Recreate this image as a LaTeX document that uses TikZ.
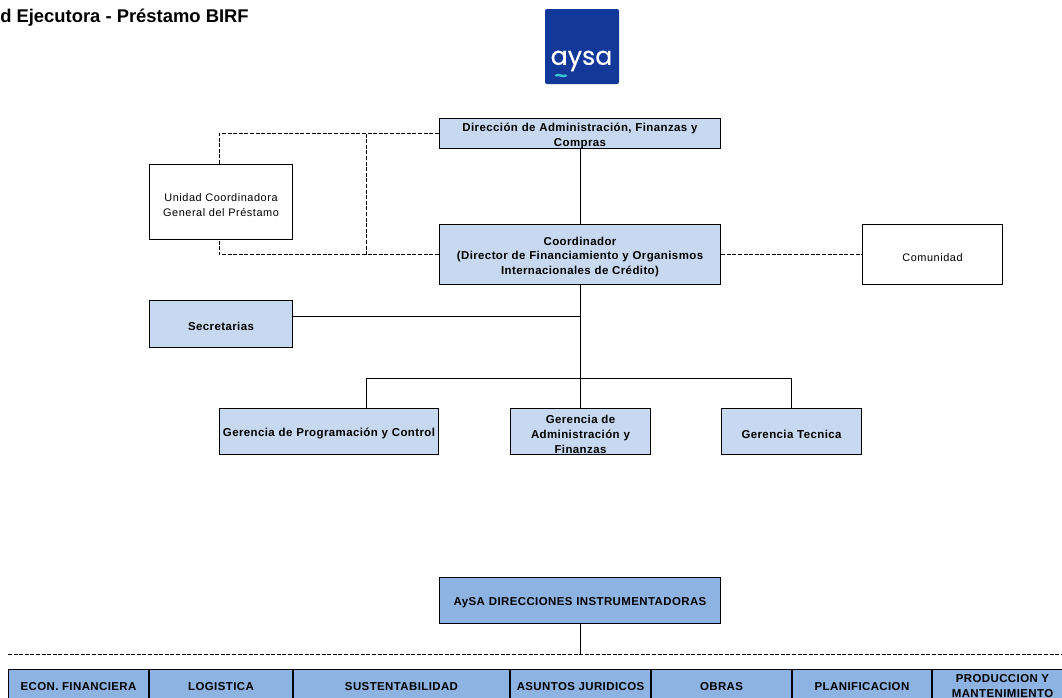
\documentclass[tikz,border=0pt]{standalone}
\usepackage{fontspec}
\setmainfont{Liberation Sans}
\newfontfamily\lsp[LetterSpace=5]{Liberation Sans}
\newfontfamily\lspb[LetterSpace=3.5]{Liberation Sans}
\newfontfamily\logofont[FakeBold=0.4]{Poppins}
\newcommand{\boxfont}{\fontsize{8.6pt}{11.2pt}\selectfont\lspb\bfseries}
\definecolor{lightblue}{HTML}{C6D9F1}
\definecolor{midblue}{HTML}{8DB3E2}
\definecolor{logoblue}{HTML}{12399A}
\definecolor{logoteal}{HTML}{35C4D8}
\tikzset{
  x=0.75pt,y=-0.75pt,
  box/.style={draw=black,line width=0.6pt,align=center,inner sep=0pt,text width=#1*0.75pt-1.5pt,minimum width=#1*0.75pt-0.4pt,font=\boxfont,anchor=center,execute at begin node={\leavevmode\rule{0pt}{10pt}}},
  lightbox/.style={box=#1,fill=lightblue},
  midbox/.style={box=#1,fill=midblue},
  plainbox/.style={draw=black,line width=0.6pt,fill=white,align=center,inner sep=0pt,text width=#1*0.75pt-2pt,minimum width=#1*0.75pt-0.4pt,font=\fontsize{8.2pt}{11.2pt}\selectfont\lsp,execute at begin node={\leavevmode\rule{0pt}{10pt}}},
  rowtext/.style={inner sep=0pt,align=center,font=\boxfont},
  link/.style={draw=black,line width=0.6pt},
  dashlink/.style={draw=black,line width=0.6pt,dash pattern=on 3pt off 1.2pt},
}
\begin{document}
\begin{tikzpicture}
\useasboundingbox (0,0) rectangle (1062,697);
\fill[white] (0,0) rectangle (1062,697);
% title
\node[anchor=west,inner sep=0pt,font=\fontsize{13.8pt}{15pt}\selectfont\bfseries] (title) at (0,16) {\rule{0pt}{13pt}d Ejecutora - Préstamo BIRF};
% logo
\node[fill=logoblue,rounded corners=1.5pt,minimum width=74*0.75pt,minimum height=75*0.75pt,inner sep=0pt] (logo) at (582,46.5) {};
\node[text=white,inner sep=0pt,font=\fontsize{19pt}{20pt}\selectfont\logofont] (logotext) at (581.5,61) {aysa};
\draw[logoteal,line width=1.8pt,line cap=round] (556,75.5) .. controls (559,73.5) and (562,77.5) .. (566,75.5);
% boxes
\node[lightbox=282,minimum height=31*0.75pt-0.4pt] (dir) at (580,133.5) {Dirección de Administración, Finanzas y\\Compras};
\node[lightbox=282,minimum height=61*0.75pt-0.4pt] (coord) at (580,254.5) {Coordinador\\(Director de Financiamiento y Organismos\\Internacionales de Crédito)};
\node[plainbox=144,minimum height=76*0.75pt-0.4pt] (uc) at (221,202) {Unidad Coordinadora\\General del Préstamo};
\node[plainbox=141,minimum height=61*0.75pt-0.4pt] (com) at (932.5,254.5) {Comunidad};
\node[lightbox=144,minimum height=48*0.75pt-0.4pt] (sec) at (221,324) {Secretarias};
\node[lightbox=220,minimum height=47*0.75pt-0.4pt] (gpc) at (329,431.5) {Gerencia de Programación y Control};
\node[lightbox=141,minimum height=47*0.75pt-0.4pt] (gaf) at (580.5,431.5) {Gerencia de\\Administración y\\Finanzas};
\node[lightbox=141,minimum height=47*0.75pt-0.4pt] (gt) at (791.5,431.5) {Gerencia Tecnica};
\node[midbox=282,minimum height=47*0.75pt-0.4pt] (aysa) at (580,600.5) {AySA DIRECCIONES INSTRUMENTADORAS};
% bottom row
\node[midbox=141,minimum height=47*0.75pt] (b1) at (78.5,692.5) {};
\node[rowtext] (t1) at (78.5,686.5) {ECON. FINANCIERA};
\node[midbox=144,minimum height=47*0.75pt] (b2) at (221,692.5) {};
\node[rowtext] (t2) at (221,686.5) {LOGISTICA};
\node[midbox=217,minimum height=47*0.75pt] (b3) at (401.5,692.5) {};
\node[rowtext] (t3) at (401.5,686.5) {SUSTENTABILIDAD};
\node[midbox=141,minimum height=47*0.75pt] (b4) at (580.5,692.5) {};
\node[rowtext] (t4) at (580.5,686.5) {ASUNTOS JURIDICOS};
\node[midbox=141,minimum height=47*0.75pt] (b5) at (721.5,692.5) {};
\node[rowtext] (t5) at (721.5,686.5) {OBRAS};
\node[midbox=140,minimum height=47*0.75pt] (b6) at (862,692.5) {};
\node[rowtext] (t6) at (862,686.5) {PLANIFICACION};
\node[midbox=141,minimum height=47*0.75pt] (b7) at (1002.5,692.5) {};
\node[rowtext] (t7) at (1002.5,686.5) {PRODUCCION Y\\MANTENIMIENTO};
% junctions
\coordinate (jsec) at (580,316);
\coordinate (jbar) at (580,378);
\coordinate (jdash) at (366,133.5);
\coordinate (jdashb) at (366,254.5);
\coordinate (lineL) at (8,654);
\coordinate (lineR) at (1062,654);
% solid connectors
\draw[link] (dir.south) -- (coord.north);
\draw[link] (coord.south) -- (jbar);
\draw[link] ([yshift=6pt]sec.east) -- (jsec);
\draw[link] (jbar) -- (gaf.north -| jbar);
\draw[link] ([xshift=27.75pt]gpc.north) |- (gt.north |- jbar) -- (gt.north);
\draw[link] (aysa.south) -- (aysa.south |- lineL);
% dashed connectors
\draw[dashlink] (dir.west) -| ([xshift=-1.5pt]uc.north);
\draw[dashlink] (coord.west) -| ([xshift=-1.5pt]uc.south);
\draw[dashlink] (jdash) -- (jdashb);
\draw[dashlink] (coord.east) -- (com.west);
\draw[dashlink] (lineL) -- (lineR);
\end{tikzpicture}
\end{document}
